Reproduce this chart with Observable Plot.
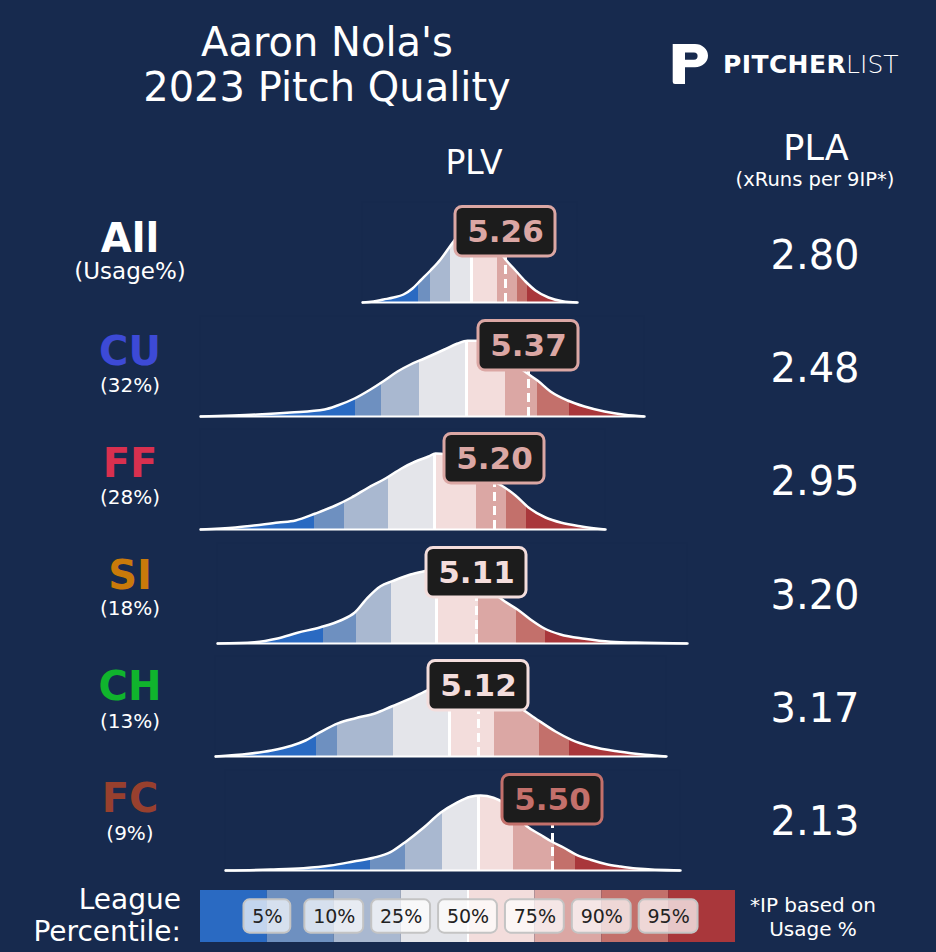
<!DOCTYPE html>
<html><head><meta charset="utf-8">
<script src="https://cdn.jsdelivr.net/npm/d3@7"></script>
<script src="https://cdn.jsdelivr.net/npm/@observablehq/plot@0.6"></script>
<style>
html,body{margin:0;padding:0;background:#172a4e;}
#root{position:relative;width:936px;height:952px;background:#172a4e;overflow:hidden;font-family:"DejaVu Sans",sans-serif;color:#fff;}
.t{position:absolute;white-space:pre;}
.p{position:absolute;}
</style></head><body><div id="root"></div>
<script>
// ---------- data ----------
const pitches = ["All","CU","FF","SI","CH","FC"];
const usage = ["(Usage%)","(32%)","(28%)","(18%)","(13%)","(9%)"];
const plv = [5.26,5.37,5.20,5.11,5.12,5.50];
const pla = [2.80,2.48,2.95,3.20,3.17,2.13];
const pitchPctl = [82,81,80,72,68,90];
const pctLevels = [5,10,25,50,75,90,95];

const allX = [3.83,3.94,4.04,4.14,4.24,4.33,4.41,4.51,4.61,4.69,4.77,4.85,4.93,5.02,5.10,5.18,5.26,5.36,5.46,5.56,5.69,5.83,5.98];
const allY = [0,0.01,0.03,0.05,0.08,0.14,0.22,0.32,0.43,0.54,0.65,0.75,0.79,0.74,0.65,0.54,0.43,0.32,0.21,0.12,0.05,0.013,0];
const allCuts = [4.39,4.51,4.71,4.92,5.18,5.38,5.48];

const cuX = [2.09,2.66,2.99,3.33,3.46,3.63,3.79,3.93,4.06,4.19,4.33,4.53,4.66,4.76,4.89,4.99,5.12,5.24,5.36,5.46,5.59,5.76,5.93,6.13,6.33,6.53];
const cuY = [0,0.02,0.04,0.07,0.11,0.18,0.27,0.36,0.45,0.52,0.58,0.67,0.73,0.757,0.757,0.71,0.62,0.52,0.43,0.36,0.25,0.16,0.10,0.05,0.017,0];
const cuCuts = [3.64,3.90,4.28,4.75,5.14,5.46,5.78];

const ffX = [2.26,2.61,3.04,3.21,3.41,3.61,3.77,3.94,4.11,4.27,4.41,4.54,4.61,4.72,4.84,4.96,5.08,5.18,5.27,5.41,5.54,5.71,5.87,6.07,6.31];
const ffY = [0,0.02,0.07,0.09,0.16,0.24,0.32,0.42,0.51,0.61,0.68,0.73,0.76,0.75,0.71,0.64,0.56,0.49,0.44,0.34,0.22,0.12,0.067,0.03,0];
const ffCuts = [3.40,3.70,4.14,4.60,5.02,5.32,5.52];

const siX = [2.52,2.89,3.12,3.32,3.55,3.75,3.89,4.02,4.15,4.27,4.45,4.62,4.75,4.90,5.05,5.20,5.30,5.39,5.52,5.65,5.79,5.95,6.19,6.45,6.79,7.22];
const siY = [0,0.013,0.05,0.107,0.163,0.23,0.307,0.457,0.573,0.623,0.69,0.73,0.76,0.75,0.67,0.57,0.49,0.423,0.34,0.24,0.15,0.09,0.047,0.017,0.007,0];
const siCuts = [3.58,3.91,4.26,4.71,5.13,5.51,5.80];

const chX = [2.49,2.82,3.05,3.25,3.39,3.52,3.72,3.89,4.09,4.25,4.45,4.62,4.74,4.89,5.04,5.19,5.34,5.46,5.59,5.72,5.89,6.05,6.25,6.52,6.79,7.00];
const chY = [0,0.027,0.06,0.107,0.16,0.233,0.333,0.383,0.433,0.50,0.583,0.667,0.71,0.75,0.75,0.70,0.62,0.54,0.45,0.36,0.25,0.167,0.10,0.05,0.017,0];
const chCuts = [3.50,3.71,4.27,4.83,5.28,5.73,6.03];

const fcX = [2.23,2.68,3.01,3.28,3.51,3.71,3.88,4.04,4.21,4.38,4.54,4.68,4.78,4.91,5.01,5.13,5.24,5.38,5.49,5.61,5.74,5.88,6.04,6.18,6.34,6.78];
const fcY = [0,0.01,0.023,0.05,0.09,0.127,0.183,0.293,0.427,0.577,0.677,0.737,0.75,0.727,0.677,0.56,0.445,0.357,0.29,0.23,0.157,0.107,0.063,0.04,0.02,0];
const fcCuts = [3.68,4.03,4.40,4.76,5.11,5.52,5.73];

// ---------- styling / layout ----------
const bg = "#172a4e";
const bandColors = ["#2a6ac2","#6e90c0","#a9b8d0","#e4e5ea","#f3dddc","#dba7a4","#c3706b","#a9373b"];
const pitchColors = ["#ffffff","#3d4ad6","#d9304f","#c97a0a","#10b42d","#98402e"];
const curvesX = [allX,cuX,ffX,siX,chX,fcX];
const curvesY = [allY,cuY,ffY,siY,chY,fcY];
const cutsAll = [allCuts,cuCuts,ffCuts,siCuts,chCuts,fcCuts];
const xDomains = [[2.11,7.21],[1.99,7.09],[2.16,7.26],[2.25,7.35],[2.24,7.34],[1.88,6.98]];
const rowTop = [191,304.5,418,531.5,644.5,758.5];
const labelY = [238,350.5,463.3,574.7,686,798];
const usageY = [271,385,497,608,721,833];
const plaY = [255,368,481,595,708,821];

const root = document.getElementById("root");
function put(text, cx, cy, size, o={}) {
  const d = document.createElement("div");
  d.className = "t";
  const lh = o.lh || Math.round(size*1.2);
  const lines = text.split("\n").length;
  d.style.fontSize = size+"px";
  d.style.lineHeight = lh+"px";
  d.style.top = (cy - lines*lh/2) + "px";
  if (o.align === "right") { d.style.left = "0px"; d.style.width = cx+"px"; d.style.textAlign = "right"; }
  else { d.style.left = (cx-300)+"px"; d.style.width = "600px"; d.style.textAlign = "center"; }
  if (o.weight) d.style.fontWeight = o.weight;
  d.style.color = o.color || "#fff";
  d.textContent = text;
  root.appendChild(d);
  return d;
}
function place(node, left, top) {
  const w = document.createElement("div");
  w.className = "p"; w.style.left = left+"px"; w.style.top = top+"px";
  w.appendChild(node); root.appendChild(w);
}

// title & headers
put("Aaron Nola's\n2023 Pitch Quality", 327, 65, 40, {lh:45});
put("PLV", 474, 163, 33);
put("PLA", 816, 148, 35);
put("(xRuns per 9IP*)", 815, 180, 19.5, {lh: 22});

// logo
const logo = document.createElement("div");
logo.className = "p"; logo.style.left = "668px"; logo.style.top = "40px";
logo.innerHTML = '<svg width="45" height="50" viewBox="0 0 45 50"><path fill="#fff" fill-rule="evenodd" d="M4.7,4 H27 A13,11.6 0 0 1 40,15.6 A13,11.6 0 0 1 27,27.3 H17 V44 H7 A2.3,2.3 0 0 1 4.7,41.7 Z M17,12.5 H26 A3.6,3.6 0 0 1 26,19.7 H17 Z"/></svg>';
root.appendChild(logo);
const lt = document.createElement("div");
lt.className = "t"; lt.style.left = "723px"; lt.style.top = "50px";
lt.style.fontSize = "25px"; lt.style.lineHeight = "30px";
lt.innerHTML = '<span style="font-weight:bold;letter-spacing:0.4px">PITCHER</span><span style="font-weight:200">LIST</span>';
root.appendChild(lt);

// rows
function rowPlot(i) {
  const xs = curvesX[i], ys = curvesY[i], cuts = cutsAll[i];
  const pts = xs.map((x,j)=>({x, y: ys[j]}));
  const edges = [xs[0], ...cuts, xs[xs.length-1]];
  const bands = d3.range(8).map(b=>({x1:edges[b], x2:edges[b+1], b}));
  const V = plv[i];
  const lc = bandColors[d3.bisectRight(pctLevels, pitchPctl[i])];
  const top = 1.0;
  return Plot.plot({
    width: 510, height: 113, marginTop: 0, marginBottom: 2, marginLeft: 0, marginRight: 0,
    x: {domain: xDomains[i], axis: null},
    y: {domain: [0, 1.11], axis: null},
    style: {background: "transparent", overflow: "visible", fontFamily: "DejaVu Sans"},
    marks: [
      Plot.rect(bands, {x1: "x1", x2: "x2", y1: 0, y2: top, fill: d => bandColors[d.b]}),
      Plot.ruleX([cuts[3]], {y1: 0, y2: top, stroke: "white", strokeWidth: 3}),
      Plot.areaY(pts, {x: "x", y1: "y", y2: top, fill: bg, stroke: bg, strokeWidth: 1.5, curve: "monotone-x"}),
      Plot.ruleY([0], {x1: xs[0], x2: xs[xs.length-1], stroke: "white", strokeWidth: 2}),
      Plot.line(pts, {x: "x", y: "y", stroke: "white", strokeWidth: 2.5, curve: "monotone-x"}),
      Plot.ruleX([V], {y1: 0, y2: 0.45, stroke: "white", strokeWidth: 3, strokeDasharray: "9,5"}),
      Plot.rect([V], {x1: d => d - 0.50, x2: d => d + 0.50, y1: 0.46, y2: 0.955, fill: "#1c1c1c", stroke: lc, strokeWidth: 3, rx: 7, ry: 7}),
      Plot.text([V], {x: d => d, y: 0.705, text: d => d.toFixed(2), fill: lc, fontSize: 31, fontWeight: "bold", fontFamily: "DejaVu Sans"})
    ]
  });
}
pitches.forEach((p, i) => {
  place(rowPlot(i), 190, rowTop[i]);
  put(p, 130, labelY[i], 40, {weight: "bold", color: pitchColors[i], lh: 30});
  put(usage[i], 130, usageY[i], i === 0 ? 23 : 20, {lh: 22});
  put(pla[i].toFixed(2), 815, plaY[i], 40);
});

// legend
const legendLabels = pctLevels.map((p, i) => ({p, i, label: p + "%"}));
const legend = Plot.plot({
  width: 535, height: 52, margin: 0,
  x: {domain: [0, 8], axis: null},
  y: {domain: [0, 1], axis: null},
  style: {background: "transparent", overflow: "visible", fontFamily: "DejaVu Sans"},
  marks: [
    Plot.rect(d3.range(8), {x1: d => d, x2: d => d + 1, y1: 0, y2: 1, fill: d => bandColors[d]}),
    Plot.ruleX([4], {stroke: "white", strokeWidth: 2}),
    Plot.rect(legendLabels, {x1: d => d.i + 1 - (d.label.length === 2 ? 0.35 : 0.44), x2: d => d.i + 1 + (d.label.length === 2 ? 0.35 : 0.44), y1: 0.18, y2: 0.82, fill: "white", fillOpacity: 0.72, stroke: "#c4c4c4", strokeWidth: 2, rx: 6, ry: 6}),
    Plot.text(legendLabels, {x: d => d.i + 1, y: 0.5, text: "label", fill: "#222", fontSize: 19, fontFamily: "DejaVu Sans"})
  ]
});
place(legend, 200, 890);
put("League\nPercentile:", 181, 916, 28, {align: "right", lh: 32});
put("*IP based on\nUsage %", 813, 917, 20, {lh: 24});
</script></body></html>
